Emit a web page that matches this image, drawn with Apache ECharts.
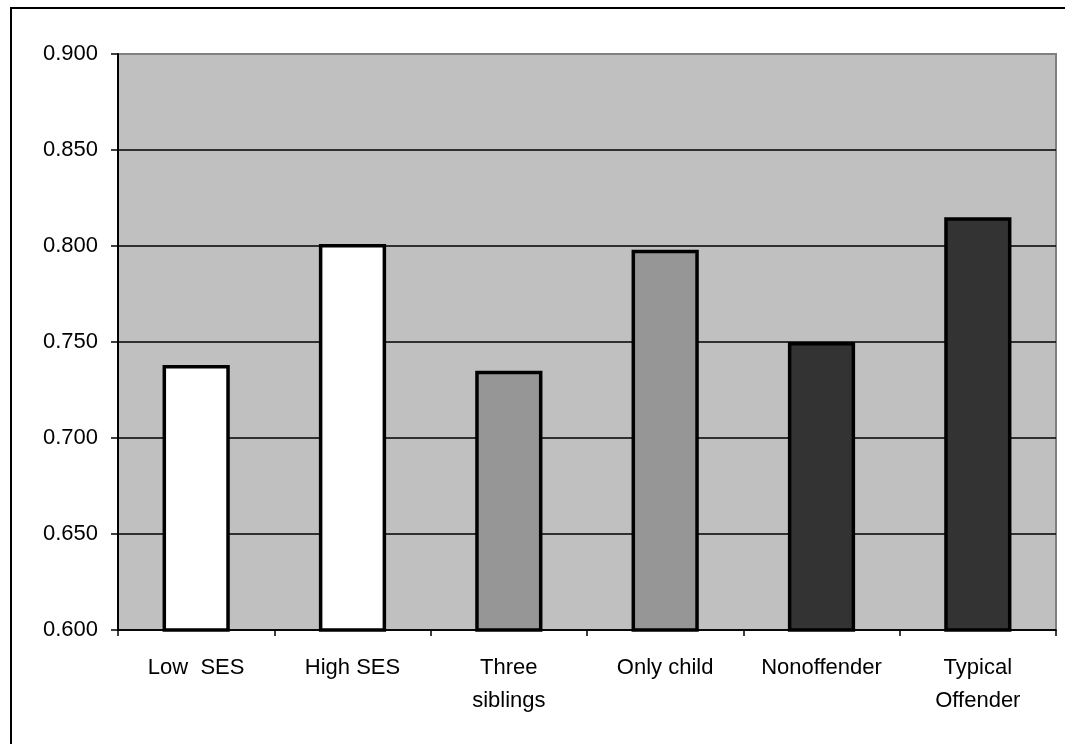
<!DOCTYPE html>
<html><head><meta charset="utf-8">
<script src="https://cdn.jsdelivr.net/npm/echarts@6/dist/echarts.min.js"></script>
<style>html,body{margin:0;padding:0;background:#fff;}#c{width:1065px;height:744px;}</style>
</head><body><div id="c"></div>
<script>
const categories = ['Low  SES', 'High SES', 'Three\nsiblings', 'Only child', 'Nonoffender', 'Typical\nOffender'];
const values = [0.738, 0.801, 0.735, 0.798, 0.750, 0.815];
const barColors = ['#ffffff', '#ffffff', '#969696', '#969696', '#333333', '#333333'];
const yMin = 0.6, yMax = 0.9, yStep = 0.05;

const chart = echarts.init(document.getElementById('c'), null, {renderer: 'canvas'});
chart.setOption({
  animation: false,
  backgroundColor: '#ffffff',
  graphic: [{
    type: 'rect', z: 100, silent: true,
    shape: {x: 11, y: 8, width: 1100, height: 800},
    style: {fill: 'none', stroke: '#000', lineWidth: 2}
  }],
  grid: {left: 118, right: 9, top: 54, bottom: 114, show: true,
    backgroundColor: '#c0c0c0', borderColor: '#808080', borderWidth: 2},
  xAxis: {
    type: 'category', data: categories,
    axisLine: {lineStyle: {color: '#000', width: 1.5}},
    axisTick: {show: true, length: 6, inside: false, lineStyle: {color: '#000', width: 1.5}},
    axisLabel: {color: '#000', fontFamily: 'Liberation Sans, Arial, sans-serif', fontSize: 22, margin: 21, lineHeight: 33, interval: 0}
  },
  yAxis: {
    type: 'value', min: yMin, max: yMax, interval: yStep,
    axisLine: {show: true, lineStyle: {color: '#000', width: 2}},
    axisTick: {show: true, length: 7, lineStyle: {color: '#000', width: 1.5}},
    splitLine: {show: true, lineStyle: {color: ['#000', '#000', '#000', '#000', '#000', '#000', '#808080'], width: 1.5}},
    axisLabel: {color: '#000', fontFamily: 'Liberation Sans, Arial, sans-serif', fontSize: 22, margin: 20,
      formatter: v => v.toFixed(3)}
  },
  series: [{
    type: 'bar', barWidth: '43%',
    data: values.map((v, i) => ({value: v, itemStyle: {color: barColors[i]}})),
    itemStyle: {borderColor: '#000', borderWidth: 3.5}
  }]
});
</script></body></html>
